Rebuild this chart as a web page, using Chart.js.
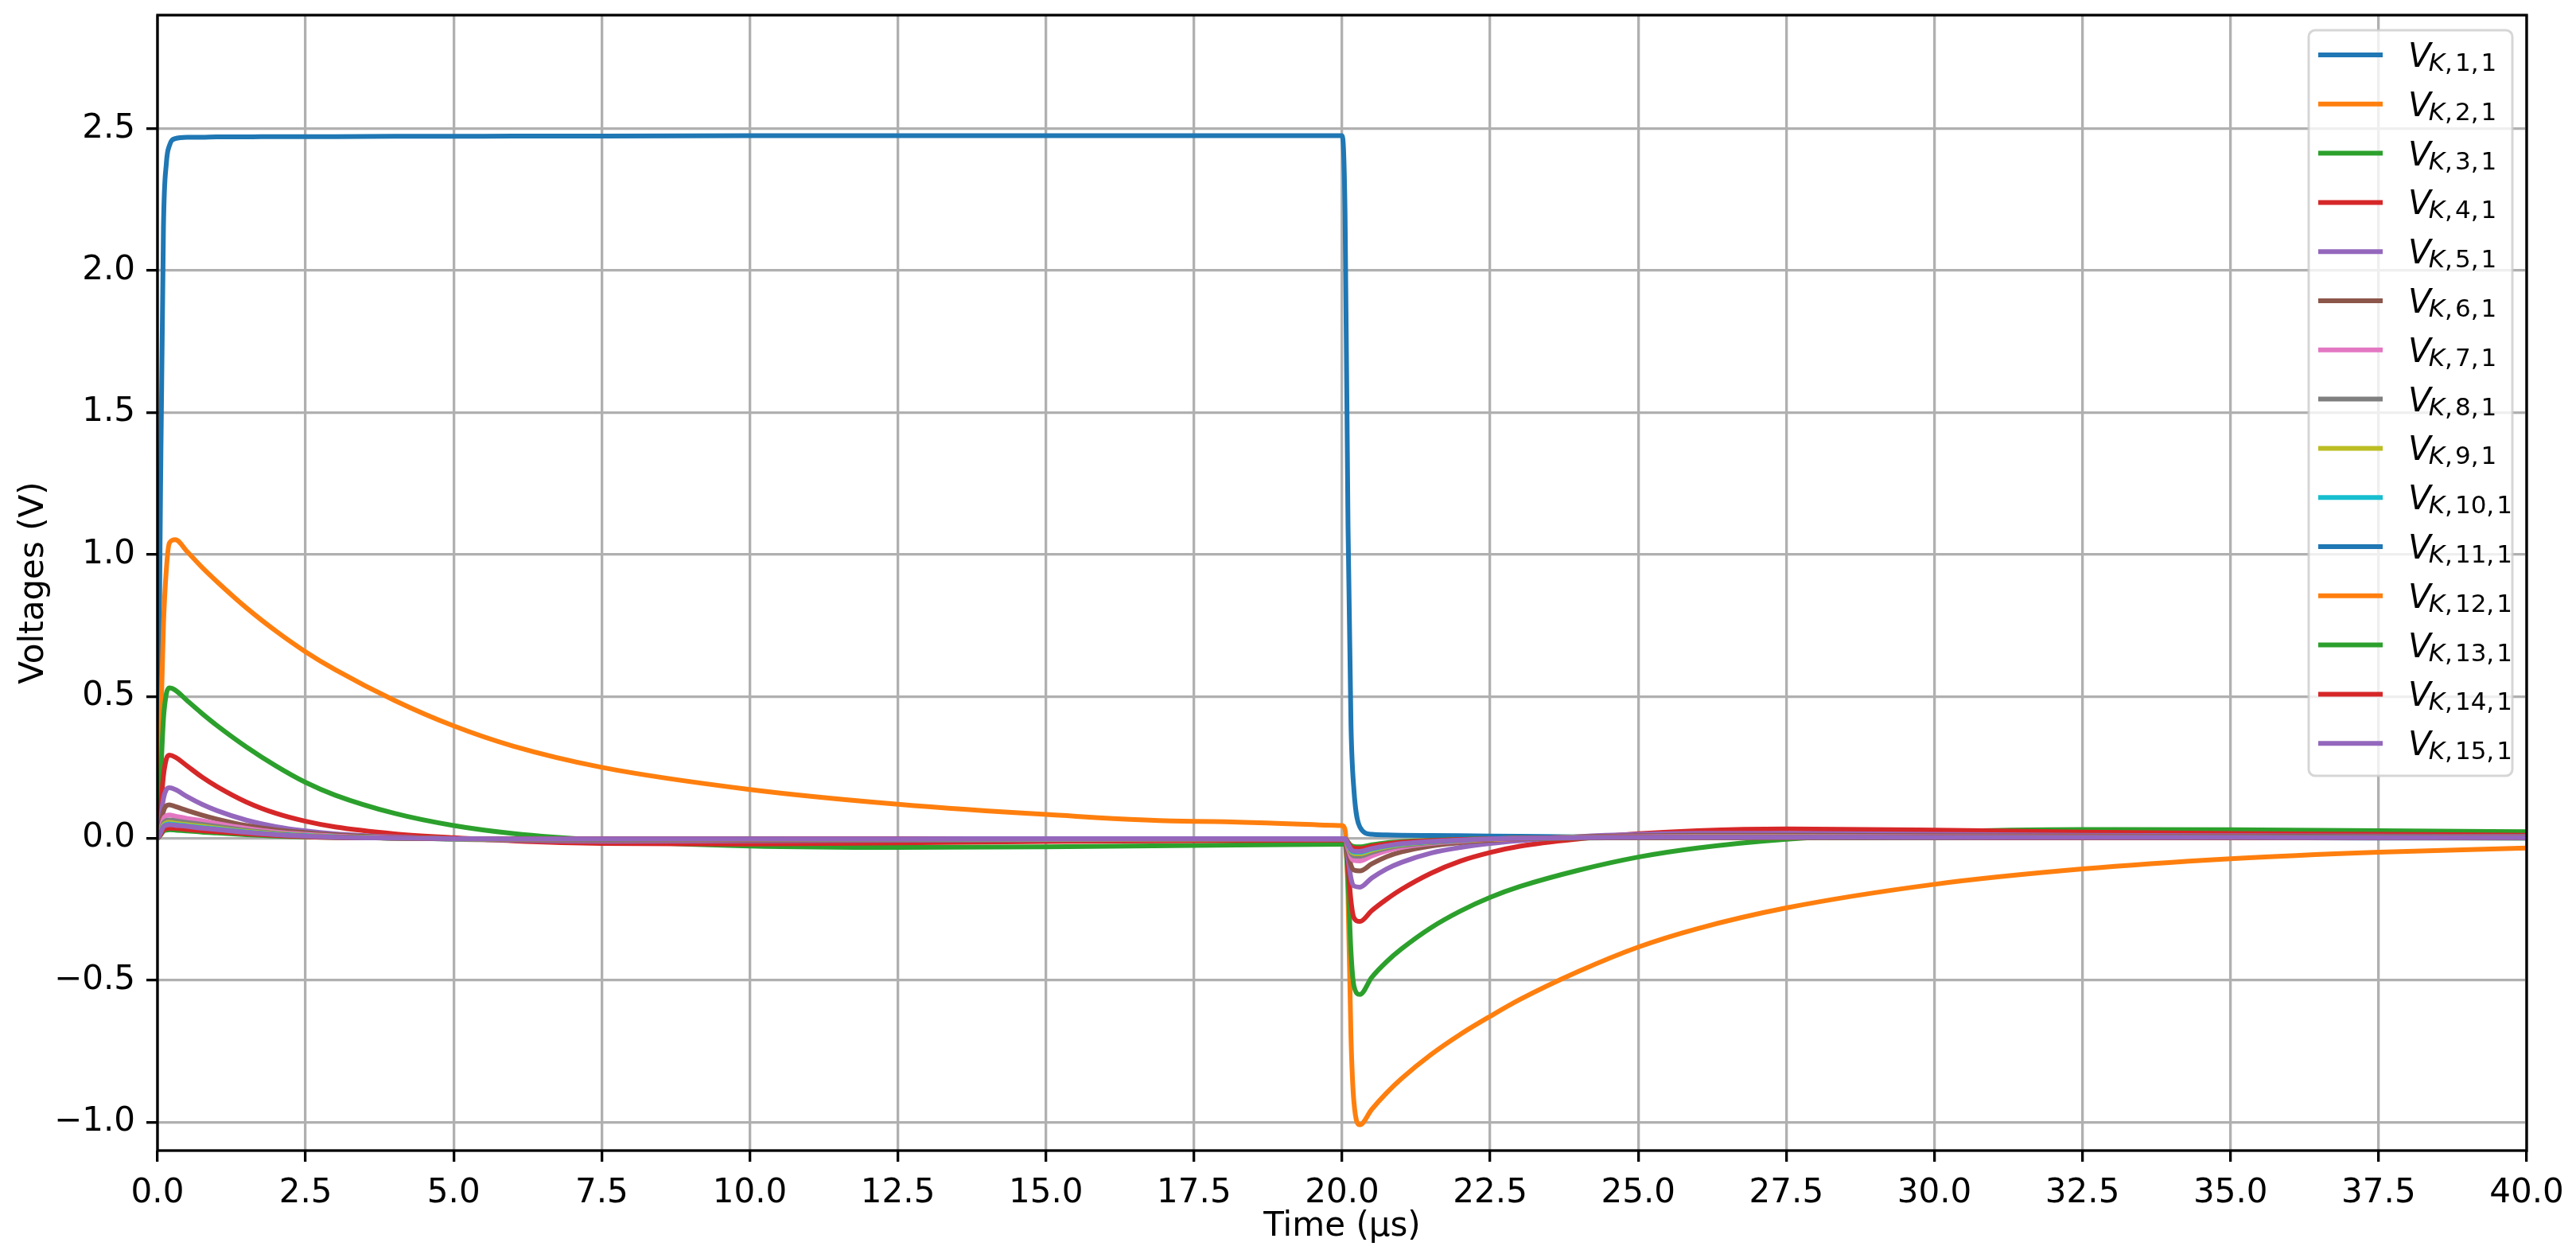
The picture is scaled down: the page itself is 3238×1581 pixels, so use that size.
<!DOCTYPE html>
<html>
<head>
<meta charset="utf-8">
<title>Voltages V_K,n,1</title>
<script src="https://cdn.jsdelivr.net/npm/chart.js"></script>
<style>
  body { margin: 0; background: #fff; }
  #wrap { width: 3238px; height: 1581px; position: relative; }
</style>
</head>
<body>
<div id="wrap"><canvas id="chart"></canvas></div>
<script>
// Sample times (µs) shared by every node voltage
const timeUs = [0, 0.05, 0.1, 0.15, 0.2, 0.3, 0.5, 0.75, 1, 1.5, 2, 2.5, 3, 4, 5, 6, 7.5, 10, 12.5, 15, 17.5, 20,
  20.05, 20.1, 20.15, 20.2, 20.3, 20.5, 20.75, 21, 21.5, 22, 22.5, 23, 24, 25, 26, 27.5, 30, 32.5, 35, 37.5, 40];

// Node voltages (V)
const vK1 = [0, 1.2, 2.15, 2.38, 2.44, 2.465, 2.47, 2.47, 2.471, 2.471, 2.472, 2.472, 2.472, 2.473, 2.473, 2.474, 2.474, 2.475, 2.475, 2.475, 2.475, 2.475,
  2.2, 1.1, 0.4, 0.17, 0.04, 0.014, 0.012, 0.011, 0.01, 0.009, 0.008, 0.007, 0.005, 0.004, 0.003, 0.003, 0.002, 0.002, 0.002, 0.001, 0.001];
const vK2 = [0, 0.35, 0.75, 0.95, 1.04, 1.052, 1.01, 0.955, 0.905, 0.812, 0.73, 0.657, 0.594, 0.486, 0.396, 0.325, 0.25, 0.172, 0.12, 0.084, 0.06, 0.045,
  0.03, -0.2, -0.7, -0.93, -1.009, -0.955, -0.897, -0.847, -0.762, -0.69, -0.627, -0.568, -0.468, -0.383, -0.318, -0.245, -0.162, -0.108, -0.072, -0.049, -0.034];
const vK3 = [0, 0.2, 0.42, 0.51, 0.53, 0.522, 0.485, 0.44, 0.398, 0.322, 0.255, 0.197, 0.152, 0.088, 0.045, 0.017, -0.007, -0.027, -0.032, -0.03, -0.025, -0.021,
  -0.022, -0.15, -0.4, -0.52, -0.55, -0.49, -0.435, -0.39, -0.315, -0.256, -0.208, -0.17, -0.112, -0.066, -0.034, -0.003, 0.022, 0.031, 0.03, 0.027, 0.023];
const vK4 = [0, 0.1, 0.22, 0.28, 0.293, 0.286, 0.255, 0.216, 0.183, 0.128, 0.088, 0.06, 0.04, 0.016, 0.002, -0.009, -0.018, -0.02, -0.016, -0.011, -0.008, -0.006,
  -0.007, -0.1, -0.22, -0.28, -0.293, -0.255, -0.215, -0.18, -0.123, -0.08, -0.05, -0.028, -0.002, 0.016, 0.027, 0.033, 0.029, 0.022, 0.017, 0.014, 0.011];
const vK5 = [0, 0.06, 0.14, 0.172, 0.178, 0.172, 0.147, 0.12, 0.098, 0.064, 0.041, 0.026, 0.016, 0.005, -0.002, -0.007, -0.01, -0.009, -0.007, -0.005, -0.004, -0.003,
  -0.004, -0.07, -0.14, -0.168, -0.172, -0.14, -0.108, -0.085, -0.052, -0.032, -0.018, -0.008, 0.006, 0.014, 0.018, 0.018, 0.014, 0.011, 0.009, 0.008, 0.007];
const vK6 = [0, 0.04, 0.095, 0.115, 0.118, 0.112, 0.098, 0.082, 0.068, 0.045, 0.03, 0.02, 0.012, 0.003, -0.003, -0.005, -0.007, -0.006, -0.005, -0.004, -0.003, -0.002,
  -0.003, -0.05, -0.095, -0.112, -0.115, -0.09, -0.065, -0.048, -0.027, -0.015, -0.007, -0.002, 0.005, 0.009, 0.011, 0.011, 0.009, 0.008, 0.007, 0.006, 0.005];
const vK7 = [0, 0.03, 0.068, 0.08, 0.082, 0.078, 0.07, 0.062, 0.052, 0.035, 0.022, 0.014, 0.008, 0.002, -0.002, -0.004, -0.005, -0.004, -0.003, -0.003, -0.002, -0.002,
  -0.002, -0.035, -0.067, -0.078, -0.08, -0.062, -0.044, -0.032, -0.018, -0.01, -0.004, -0.001, 0.004, 0.006, 0.007, 0.007, 0.006, 0.005, 0.005, 0.004, 0.004];
const vK8 = [0, 0.024, 0.054, 0.063, 0.065, 0.062, 0.056, 0.049, 0.042, 0.028, 0.018, 0.011, 0.006, 0.001, -0.002, -0.003, -0.004, -0.003, -0.003, -0.002, -0.002, -0.001,
  -0.002, -0.028, -0.053, -0.062, -0.063, -0.049, -0.035, -0.026, -0.015, -0.008, -0.003, 0.0, 0.003, 0.005, 0.006, 0.006, 0.005, 0.004, 0.004, 0.003, 0.003];
const vK9 = [0, 0.021, 0.046, 0.054, 0.056, 0.053, 0.048, 0.042, 0.036, 0.024, 0.016, 0.01, 0.005, 0.001, -0.002, -0.003, -0.003, -0.003, -0.002, -0.002, -0.002, -0.001,
  -0.002, -0.024, -0.046, -0.053, -0.054, -0.042, -0.03, -0.022, -0.013, -0.007, -0.003, 0.0, 0.003, 0.004, 0.005, 0.005, 0.004, 0.004, 0.003, 0.003, 0.003];
const vK10 = [0, 0.019, 0.042, 0.049, 0.051, 0.048, 0.044, 0.038, 0.033, 0.022, 0.014, 0.009, 0.005, 0.001, -0.002, -0.002, -0.003, -0.002, -0.002, -0.002, -0.001, -0.001,
  -0.001, -0.022, -0.042, -0.048, -0.049, -0.038, -0.027, -0.02, -0.012, -0.006, -0.002, 0.0, 0.002, 0.004, 0.004, 0.004, 0.004, 0.003, 0.003, 0.003, 0.002];
const vK11 = [0, 0.018, 0.039, 0.045, 0.047, 0.045, 0.041, 0.035, 0.03, 0.02, 0.013, 0.008, 0.004, 0.001, -0.001, -0.002, -0.002, -0.002, -0.002, -0.001, -0.001, -0.001,
  -0.001, -0.02, -0.038, -0.044, -0.045, -0.035, -0.025, -0.018, -0.011, -0.006, -0.002, 0.0, 0.002, 0.003, 0.004, 0.004, 0.003, 0.003, 0.003, 0.002, 0.002];
const vK12 = [0, 0.016, 0.036, 0.042, 0.043, 0.041, 0.037, 0.032, 0.028, 0.019, 0.012, 0.007, 0.004, 0.001, -0.001, -0.002, -0.002, -0.002, -0.002, -0.001, -0.001, -0.001,
  -0.001, -0.018, -0.035, -0.041, -0.042, -0.032, -0.023, -0.017, -0.01, -0.005, -0.002, 0.0, 0.002, 0.003, 0.004, 0.004, 0.003, 0.003, 0.002, 0.002, 0.002];
const vK13 = [0, 0.011, 0.025, 0.029, 0.03, 0.029, 0.026, 0.022, 0.019, 0.013, 0.008, 0.005, 0.003, 0.001, -0.001, -0.001, -0.002, -0.001, -0.001, -0.001, -0.001, -0.001,
  -0.001, -0.013, -0.025, -0.029, -0.03, -0.023, -0.016, -0.012, -0.007, -0.004, -0.001, 0.0, 0.001, 0.002, 0.003, 0.003, 0.002, 0.002, 0.002, 0.002, 0.001];
const vK14 = [0, 0.013, 0.03, 0.035, 0.036, 0.035, 0.031, 0.027, 0.023, 0.016, 0.01, 0.006, 0.003, 0.001, -0.001, -0.002, -0.002, -0.002, -0.001, -0.001, -0.001, -0.001,
  -0.001, -0.015, -0.03, -0.035, -0.036, -0.028, -0.02, -0.014, -0.008, -0.004, -0.002, 0.0, 0.002, 0.003, 0.003, 0.003, 0.003, 0.002, 0.002, 0.002, 0.002];
const vK15 = [0, 0.018, 0.04, 0.046, 0.048, 0.046, 0.042, 0.036, 0.031, 0.021, 0.013, 0.008, 0.004, 0.001, -0.001, -0.002, -0.002, -0.002, -0.002, -0.001, -0.001, -0.001,
  -0.001, -0.02, -0.039, -0.045, -0.046, -0.036, -0.026, -0.019, -0.011, -0.006, -0.002, 0.0, 0.002, 0.003, 0.004, 0.004, 0.003, 0.003, 0.003, 0.002, 0.002];

const nodeIndex = ['1', '2', '3', '4', '5', '6', '7', '8', '9', '10', '11', '12', '13', '14', '15'];
const xTicks = [0, 2.5, 5, 7.5, 10, 12.5, 15, 17.5, 20, 22.5, 25, 27.5, 30, 32.5, 35, 37.5, 40];
const yTicks = [-1.0, -0.5, 0.0, 0.5, 1.0, 1.5, 2.0, 2.5];

const tab10 = ['#1f77b4', '#ff7f0e', '#2ca02c', '#d62728', '#9467bd', '#8c564b', '#e377c2', '#7f7f7f', '#bcbd22', '#17becf'];
const allSeries = [vK1, vK2, vK3, vK4, vK5, vK6, vK7, vK8, vK9, vK10, vK11, vK12, vK13, vK14, vK15];

const fmt = v => v.toFixed(1).replace('-', '\u2212');

// draws the axes frame (all four spines) like matplotlib
const frame = {
    id: 'frame',
    afterDatasetsDraw(chart) {
        const { ctx, chartArea: a } = chart;
        ctx.save();
        ctx.strokeStyle = '#000';
        ctx.lineWidth = 3.3;
        ctx.strokeRect(a.left, a.top, a.right - a.left, a.bottom - a.top);
        ctx.restore();
    }
};

// legend with V_{K,n,1} subscripts
const mathLegend = {
    id: 'mathLegend',
    afterDraw(chart) {
        const { ctx, chartArea: a } = chart;
        const w = 256, h = 937;
        const x0 = a.right - 18 - w, y0 = a.top + 19;
        ctx.save();
        ctx.beginPath();
        ctx.roundRect(x0, y0, w, h, 8);
        ctx.fillStyle = 'rgba(255,255,255,0.8)';
        ctx.fill();
        ctx.lineWidth = 3;
        ctx.strokeStyle = 'rgba(204,204,204,0.8)';
        ctx.stroke();
        chart.data.datasets.forEach((ds, i) => {
            const y = y0 + 31 + i * 61.8;
            ctx.beginPath();
            ctx.moveTo(x0 + 12, y);
            ctx.lineTo(x0 + 93, y);
            ctx.strokeStyle = ds.borderColor;
            ctx.lineWidth = 6;
            ctx.stroke();
            ctx.fillStyle = '#000';
            ctx.textBaseline = 'alphabetic';
            ctx.textAlign = 'left';
            let x = x0 + 125;
            ctx.font = 'italic 42px "DejaVu Sans"';
            ctx.fillText('V', x, y + 15);
            x += ctx.measureText('V').width - 3;
            ctx.font = 'italic 31px "DejaVu Sans"';
            ctx.fillText('K', x, y + 20);
            x += ctx.measureText('K').width;
            ctx.font = '31px "DejaVu Sans"';
            [',', nodeIndex[i], ',', '1'].forEach(part => {
                ctx.fillText(part, x, y + 20);
                x += ctx.measureText(part).width + (part === ',' ? 3 : 0);
            });
        });
        ctx.restore();
    }
};

const ctx = document.getElementById('chart').getContext('2d');
Chart.defaults.font.family = '"DejaVu Sans"';
Chart.defaults.color = '#000';

const myChart = new Chart(ctx, {
    type: 'line',
    data: {
        datasets: allSeries.map((vals, i) => ({
            label: 'V_{K,' + nodeIndex[i] + ',1}',
            data: timeUs.map((t, j) => ({ x: t, y: vals[j] })),
            borderColor: tab10[i % 10],
            backgroundColor: tab10[i % 10],
            borderWidth: 6,
            pointRadius: 0,
            cubicInterpolationMode: 'monotone',
            fill: false,
            clip: 0,
            order: allSeries.length - i // later series on top, like matplotlib
        }))
    },
    options: {
        responsive: true,
        maintainAspectRatio: false,
        devicePixelRatio: 1,
        animation: false,
        layout: { padding: { top: 19, right: 62, left: 0, bottom: 0 } },
        plugins: {
            legend: { display: false },
            tooltip: { enabled: false }
        },
        scales: {
            x: {
                type: 'linear',
                min: 0,
                max: 40,
                afterBuildTicks: s => { s.ticks = xTicks.map(v => ({ value: v })); },
                afterFit: s => { s.height = 135; s.paddingLeft = 0; s.paddingRight = 0; },
                ticks: {
                    autoSkip: false,
                    maxRotation: 0,
                    padding: 15,
                    font: { size: 42 },
                    callback: v => fmt(v)
                },
                grid: {
                    color: '#b0b0b0',
                    lineWidth: 3.3,
                    tickColor: '#000',
                    tickWidth: 3.3,
                    tickLength: 14
                },
                border: { display: false },
                title: {
                    display: true,
                    text: 'Time (\u03bcs)',
                    font: { size: 42 },
                    padding: { top: 0, bottom: 14 }
                }
            },
            y: {
                type: 'linear',
                min: -1.1,
                max: 2.9,
                afterBuildTicks: s => { s.ticks = yTicks.map(v => ({ value: v })); },
                afterFit: s => { s.width = 198; s.paddingTop = 0; s.paddingBottom = 0; },
                ticks: {
                    padding: 14,
                    font: { size: 42 },
                    callback: v => fmt(v)
                },
                grid: {
                    color: '#b0b0b0',
                    lineWidth: 3.3,
                    tickColor: '#000',
                    tickWidth: 3.3,
                    tickLength: 14
                },
                border: { display: false },
                title: {
                    display: true,
                    text: 'Voltages (V)',
                    font: { size: 42 },
                    padding: { top: 18, bottom: 0 }
                }
            }
        }
    },
    plugins: [frame, mathLegend]
});
</script>
</body>
</html>
